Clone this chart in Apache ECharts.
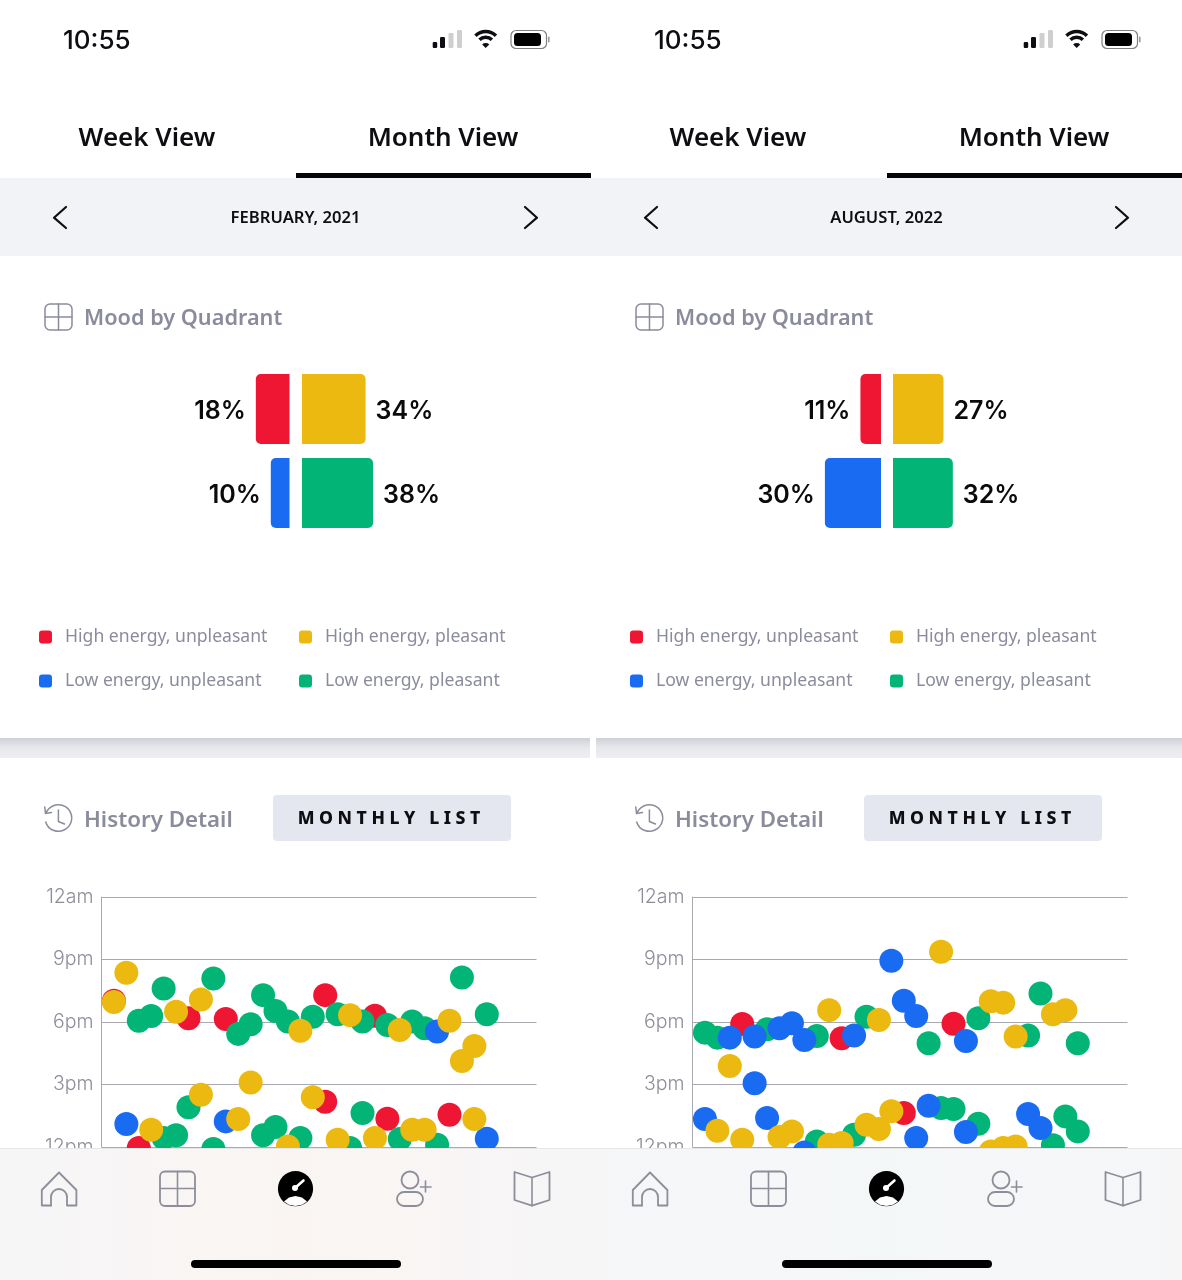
<!DOCTYPE html>
<html><head><meta charset="utf-8">
<script src="https://cdn.jsdelivr.net/npm/echarts@6/dist/echarts.min.js"></script>
<style>html,body{margin:0;padding:0;background:#fff;overflow:hidden}#c{width:1182px;height:1280px}</style>
</head><body><div id="c"></div>
<script>
const statusTime = '10:55';
const tabLabels = ['Week View', 'Month View'];
const monthLabels = ['FEBRUARY, 2021', 'AUGUST, 2022'];
const quadrantNames = ['High energy, unpleasant', 'High energy, pleasant', 'Low energy, unpleasant', 'Low energy, pleasant'];
const rowNames = ['High energy', 'Low energy'];
const febQuadrants = [18, 34, 10, 38];
const augQuadrants = [11, 27, 30, 32];
const hourTicks = {12:'12pm', 15:'3pm', 18:'6pm', 21:'9pm', 24:'12am'};

const febRed = [[1,19.02],[3,11.95],[7,18.18],[10,18.14],[18,19.29],[22,18.30],[18,14.17],[23,13.36],[28,13.55]];
const febGreen = [[3,18.06],[4,18.29],[5,19.61],[5,12.43],[6,12.56],[7,13.91],[9,20.09],[9,11.90],[11,17.43],[12,17.89],[13,12.56],[14,12.96],[13,19.29],[14,18.53],[15,18.02],[16,12.43],[17,18.25],[19,18.37],[20,11.95],[21,18.02],[21,13.63],[23,17.86],[24,12.38],[25,18.02],[26,17.70],[27,12.11],[29,20.14],[31,18.37]];
const febBlue = [[2,13.10],[10,13.23],[27,17.54],[31,12.40]];
const febYellow = [[1,18.96],[2,20.36],[4,12.83],[6,18.49],[8,19.08],[8,14.51],[11,13.34],[12,15.10],[15,12.03],[16,17.58],[17,14.39],[19,12.35],[20,18.33],[22,12.43],[24,17.62],[25,12.83],[26,12.83],[28,18.06],[29,16.13],[30,16.85],[30,13.34]];

const augRed = [[4,17.90],[12,17.22],[17,13.63],[21,17.92]];
const augGreen = [[1,17.49],[2,17.25],[6,17.65],[10,17.33],[14,18.25],[13,12.59],[10,12.27],[20,13.87],[21,13.82],[19,16.98],[23,18.18],[23,13.12],[27,17.35],[28,19.37],[29,12.08],[30,13.47],[31,12.75],[31,16.98]];
const augBlue = [[1,13.34],[3,17.25],[5,17.30],[5,15.06],[6,13.39],[7,17.70],[8,17.94],[9,17.14],[9,11.74],[13,17.35],[16,20.94],[17,19.02],[18,18.29],[18,12.43],[19,13.98],[22,17.09],[22,12.72],[27,13.58],[28,12.91]];
const augYellow = [[2,12.78],[3,15.89],[4,12.35],[7,12.48],[8,12.75],[11,18.57],[11,12.11],[12,12.19],[14,13.07],[15,12.86],[16,13.72],[15,18.10],[20,21.37],[24,19.00],[25,18.93],[26,17.30],[29,18.37],[30,18.57],[24,11.79],[25,11.95],[26,12.03]];

const RED='#EF1634', YEL='#EBB90F', BLU='#196CF2', GRN='#02B577';
const GREY='#8A8C9C', INK='#0E0E12';
const FONT='"Noto Sans"';

const grid=[], xAxis=[], yAxis=[], series=[], legend=[], graphic=[];

function txt(x,y,text,size,weight,fill,align,z,family){
  graphic.push({type:'text',x,y,z:z||5,silent:true,style:{text,fill,font:`${weight} ${size}px ${family||FONT}`,align:align||'left',verticalAlign:'middle',textAlign:align||'left',textVerticalAlign:'middle'}});
}
function rect(x,y,w,h,fill,r,z){graphic.push({type:'rect',silent:true,z:z||1,shape:{x,y,width:w,height:h,r:r||0},style:{fill}});}
function sRect(x,y,w,h,stroke,lw,r,z){graphic.push({type:'rect',silent:true,z:z||5,shape:{x,y,width:w,height:h,r:r||0},style:{fill:'none',stroke,lineWidth:lw}});}
function line(pts,stroke,lw,z){graphic.push({type:'polyline',silent:true,z:z||5,shape:{points:pts},style:{fill:'none',stroke,lineWidth:lw,lineCap:'round',lineJoin:'round'}});}
function circ(cx,cy,r,style,z){graphic.push({type:'circle',silent:true,z:z||5,shape:{cx,cy,r},style});}
function arc(cx,cy,r,a0,a1,stroke,lw,z){graphic.push({type:'arc',silent:true,z:z||5,shape:{cx,cy,r,startAngle:a0*Math.PI/180,endAngle:a1*Math.PI/180,clockwise:true},style:{fill:'none',stroke,lineWidth:lw}});}

function panel(o,i,quad,red,green,blue,yellow,navMid,scale,leftEdge,rightEdge){
  // chrome
  txt(o+63,41,statusTime,26,500,INK,'left',5,'Inter');
  [[432.7,42,4.5,6,INK],[440,37,5,11,INK],[448.5,33,5,15,'#cfcfcf'],[457,30,5,18,'#cfcfcf']].forEach(b=>rect(o+b[0],b[1],b[2],b[3]+0,b[4],1.2,5));
  arc(o+485.7,46,14.5,-135,-45,INK,3.4,5);
  arc(o+485.7,46,8.8,-135,-45,INK,3.4,5);
  graphic.push({type:'sector',silent:true,z:5,shape:{cx:o+485.7,cy:48,r:5,r0:0,startAngle:-135*Math.PI/180,endAngle:-45*Math.PI/180},style:{fill:INK}});
  sRect(o+511,30.5,35.5,18,'#7f7f7f',1.2,5);
  rect(o+514,33,27,13,'#000',3.5,5);
  rect(o+548,36.5,1.6,6,'#9a9a9a',1,5);
  txt(o+147,139,tabLabels[0],26,600,INK,'center');
  txt(o+443,139,tabLabels[1],26,600,INK,'center');
  rect(o,178,591,78,'#F1F3F7');
  rect(o+296,173,295,5,'#050505',0,3);
  txt(o+295.5,218.5,monthLabels[i],16.6,600,INK,'center');
  line([[o+66,207],[o+54,217.7],[o+66,228]],INK,2.2);
  line([[o+525,207],[o+537,217.7],[o+525,228]],INK,2.2);
  // card heading
  sRect(o+45,304,27,26,GREY,1.5,5);
  line([[o+58.5,304],[o+58.5,330]],GREY,1.5);
  line([[o+45,317],[o+72,317]],GREY,1.5);
  txt(o+84,319,'Mood by Quadrant',21.7,600,GREY);
  // shadow band
  graphic.push({type:'rect',silent:true,z:1,shape:{x:o+(i?5:0),y:738,width:591-(i?5:0)-(i?0:1),height:20},style:{fill:{type:'linear',x:0,y:0,x2:0,y2:1,colorStops:[{offset:0,color:'#cfd0d6'},{offset:.45,color:'#e6e7eb'},{offset:1,color:'#eeeff2'}]}}});
  // history heading
  arc(o+58.4,818,13.3,-160,165,GREY,1.5);
  line([[o+44.8,807],[o+45.5,813.5],[o+51.5,812.5]],GREY,1.5);
  line([[o+58.4,810],[o+58.4,821.5],[o+64.5,824]],GREY,1.5);
  txt(o+84,820.5,'History Detail',22.3,600,GREY);
  rect(o+273,795,238,46,'#E4E7EF',4,2);
  txt(o+389,819,'M O N T H L Y   L I S T',17.6,800,INK,'center',5);
  // quadrant bars
  const barBase = {type:'bar',barWidth:70,silent:true,label:{show:true,formatter:'{c}%',fontFamily:'Inter',fontSize:25,fontWeight:600,color:'#0b0b0b',distance:10,offset:[0,2.5]}};
  const g0=grid.length;
  grid.push({left:leftEdge-50*scale,top:367,width:50*scale,height:168});
  grid.push({left:rightEdge,top:367,width:50*scale,height:168});
  grid.push({left:o+101.5,top:897,width:435,height:250});
  [0,1].forEach(k=>{
    xAxis.push({gridIndex:g0+k,type:'value',min:0,max:50,inverse:k===0,show:false});
    yAxis.push({gridIndex:g0+k,type:'category',data:rowNames,inverse:true,show:false});
  });
  xAxis.push({gridIndex:g0+2,type:'value',min:0,max:35,show:false});
  yAxis.push({gridIndex:g0+2,type:'value',min:12,max:24,interval:3,
    axisLine:{show:true,onZero:false,lineStyle:{color:'#A9A9B0',width:1}},axisTick:{show:false},
    axisLabel:{color:'#8E8E98',fontFamily:'Inter',fontWeight:300,fontSize:19.5,margin:8,formatter:v=>hourTicks[v]||''},
    splitLine:{lineStyle:{color:'#A9A9B0',width:1}}});
  const bar=(name,side,vals,color,radius)=>series.push(Object.assign({},barBase,{name,stack:'quad'+(g0+side),xAxisIndex:g0+side,yAxisIndex:g0+side,data:vals,
    itemStyle:{color,borderRadius:radius},label:Object.assign({},barBase.label,{position:side?'right':'left'})}));
  bar(quadrantNames[0],0,[quad[0],'-'],RED,[5,0,0,5]);
  bar(quadrantNames[2],0,['-',quad[2]],BLU,[5,0,0,5]);
  bar(quadrantNames[1],1,[quad[1],'-'],YEL,[0,5,5,0]);
  bar(quadrantNames[3],1,['-',quad[3]],GRN,[0,5,5,0]);
  // scatter
  [[quadrantNames[0],red,RED],[quadrantNames[3],green,GRN],[quadrantNames[2],blue,BLU],[quadrantNames[1],yellow,YEL]].forEach((s,k)=>{
    series.push({type:'scatter',name:s[0],xAxisIndex:g0+2,yAxisIndex:g0+2,data:s[1],symbolSize:24,clip:false,silent:true,z:3+k,itemStyle:{color:s[2],opacity:1}});
  });
  // legends
  const lg={orient:'vertical',icon:'roundRect',itemWidth:13,itemHeight:13,itemGap:26,selectedMode:false,top:628,padding:0,
    textStyle:{color:GREY,fontFamily:FONT,fontSize:17.6,padding:[0,0,0,8]}};
  legend.push(Object.assign({},lg,{left:o+39,data:[quadrantNames[0],quadrantNames[2]]}));
  legend.push(Object.assign({},lg,{left:o+299,data:[quadrantNames[1],quadrantNames[3]]}));
  // nav bar
  const Z=60;
  graphic.push({type:'rect',silent:true,z:Z,shape:{x:o,y:1148,width:591,height:132},style:{fill:{type:'linear',x:0,y:0,x2:1,y2:0,colorStops:[{offset:0,color:'#F6F6F7'},{offset:.5,color:navMid},{offset:1,color:'#F6F6F7'}]}}});
  rect(o,1148,591,1,'#E6E6E8',0,Z+1);
  const P=Z+2, S='#8C8E9A';
  line([[o+51,1205.5],[o+41.8,1205.5],[o+41.8,1190],[o+59,1172.5],[o+76.4,1190],[o+76.4,1205.5],[o+67,1205.5],[o+67,1197]],S,1.8,P);
  line([[o+51,1205.5],[o+51,1197]],S,1.8,P);
  arc(o+59,1197,8,180,360,S,1.8,P);
  sRect(o+160,1171.5,35,34.5,S,1.8,5,P);
  line([[o+177.5,1171.5],[o+177.5,1206]],S,1.6,P);
  line([[o+160,1188.5],[o+195,1188.5]],S,1.6,P);
  circ(o+295.5,1188.7,17.6,{fill:'#000'},P);
  graphic.push({type:'polygon',silent:true,z:P+1,shape:{points:[[o+284,1201.5],[o+289,1197.6],[o+295.5,1196],[o+302,1197.6],[o+307,1201.5],[o+302,1204.8],[o+295.5,1206],[o+289,1204.8]]},style:{fill:'#fff'}});
  line([[o+295,1188],[o+303.5,1180.5]],'#fff',2.6,P+1);
  circ(o+295,1188,3,{fill:'#fff'},P+1);
  circ(o+410,1180,8.5,{fill:'none',stroke:S,lineWidth:1.8},P);
  sRect(o+397,1192,26,14,S,1.8,7,P);
  line([[o+420.5,1187],[o+431,1187]],S,1.6,P);
  line([[o+425.5,1181],[o+425.5,1192]],S,1.6,P);
  graphic.push({type:'polygon',silent:true,z:P,shape:{points:[[o+514.5,1172],[o+532,1177.5],[o+549.5,1172],[o+549.5,1200],[o+532,1205.7],[o+514.5,1200]]},style:{fill:'none',stroke:S,lineWidth:1.8,lineJoin:'round'}});
  line([[o+532,1177.5],[o+532,1205.7]],S,1.6,P);
  rect(o+191,1260,210,8,'#000',4,P);
}

panel(0,0,febQuadrants,febRed,febGreen,febBlue,febYellow,'#FAF5F2',1.87,289.5,302);
panel(591,1,augQuadrants,augRed,augGreen,augBlue,augYellow,'#F4F7F8',1.87,881,893);

const chart=echarts.init(document.getElementById('c'),null,{width:1182,height:1280});
chart.setOption({animation:false,backgroundColor:'#fff',grid,xAxis,yAxis,series,legend,graphic:{elements:graphic},tooltip:{show:false}});
</script></body></html>
